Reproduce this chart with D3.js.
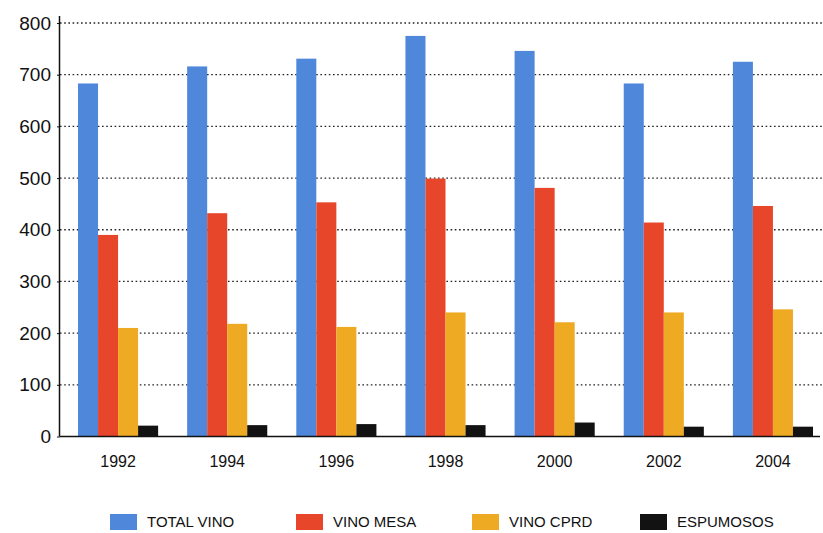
<!DOCTYPE html>
<html>
<head>
<meta charset="utf-8">
<script src="https://cdn.jsdelivr.net/npm/d3@7"></script>
<style>
  html, body { margin: 0; padding: 0; background: #fff; }
  svg { display: block; font-family: "Liberation Sans", Arial, Helvetica, sans-serif; }
</style>
</head>
<body>
<svg id="chart" width="823" height="533"></svg>
<script>
const years = ["1992", "1994", "1996", "1998", "2000", "2002", "2004"];
const seriesNames = ["TOTAL VINO", "VINO MESA", "VINO CPRD", "ESPUMOSOS"];
const totalVino = [683, 716, 731, 775, 746, 683, 725];
const vinoMesa = [390, 432, 453, 499, 481, 414, 446];
const vinoCprd = [210, 218, 212, 240, 221, 240, 246];
const espumosos = [21, 22, 24, 22, 27, 19, 19];
const yTicks = [0, 100, 200, 300, 400, 500, 600, 700, 800];
const colors = ["#4f87db", "#e8462a", "#eeaa22", "#121212"];

const seriesValues = [totalVino, vinoMesa, vinoCprd, espumosos];

const svg = d3.select("#chart");
const W = 823, H = 533;
const x0 = 60, baseY = 436.5;

const y = d3.scaleLinear().domain([0, 800]).range([baseY, 23]);
const x = d3.scaleBand().domain(years).range([x0, 831]).paddingInner(0.266).paddingOuter(0.165);
const xs = d3.scaleBand().domain(seriesNames).range([0, x.bandwidth()]);

// gridlines
svg.append("g").selectAll("line")
  .data(yTicks.filter(d => d > 0))
  .join("line")
  .attr("x1", x0).attr("x2", W)
  .attr("y1", d => y(d)).attr("y2", d => y(d))
  .attr("stroke", "#222").attr("stroke-width", 1.3)
  .attr("stroke-dasharray", "1.6 2.6");

// bars
const groups = svg.append("g").selectAll("g")
  .data(years)
  .join("g")
  .attr("transform", d => `translate(${x(d)},0)`);

groups.selectAll("rect")
  .data((yr, i) => seriesNames.map((s, j) => ({ s, v: seriesValues[j][i], c: colors[j] })))
  .join("rect")
  .attr("x", d => xs(d.s))
  .attr("width", xs.bandwidth())
  .attr("y", d => y(d.v))
  .attr("height", d => baseY - y(d.v))
  .attr("fill", d => d.c);

// y axis
const yAxis = d3.axisLeft(y).tickValues(yTicks).tickSize(3).tickPadding(6).tickFormat(d3.format("d"));
const ya = svg.append("g").attr("transform", `translate(${x0},0)`).call(yAxis);
ya.select(".domain").attr("d", `M-0.5,16V${baseY}`).attr("stroke", "#111").attr("stroke-width", 1.5);
ya.selectAll(".tick line").attr("stroke", "#111");
ya.selectAll(".tick text").attr("font-size", 19).attr("fill", "#111")
  .attr("font-family", "'Liberation Sans', Arial, sans-serif");

// baseline
svg.append("line").attr("x1", x0).attr("x2", 820).attr("y1", baseY).attr("y2", baseY)
  .attr("stroke", "#111").attr("stroke-width", 1.5);

// x axis labels
const xAxis = d3.axisBottom(x).tickSize(0).tickPadding(19);
const xa = svg.append("g").attr("transform", `translate(0,${baseY})`).call(xAxis);
xa.select(".domain").remove();
xa.selectAll(".tick text").attr("font-size", 16).attr("fill", "#111")
  .attr("font-family", "'Liberation Sans', Arial, sans-serif");

// legend
const legendX = [110, 296, 472, 640];
const lg = svg.append("g").selectAll("g")
  .data(seriesNames)
  .join("g")
  .attr("transform", (d, i) => `translate(${legendX[i]},514)`);
lg.append("rect").attr("width", 27).attr("height", 16).attr("fill", (d, i) => colors[i]);
lg.append("text").attr("x", 37).attr("y", 8).attr("dy", "0.35em")
  .attr("font-size", 15).attr("fill", "#111").text(d => d);
</script>
</body>
</html>
